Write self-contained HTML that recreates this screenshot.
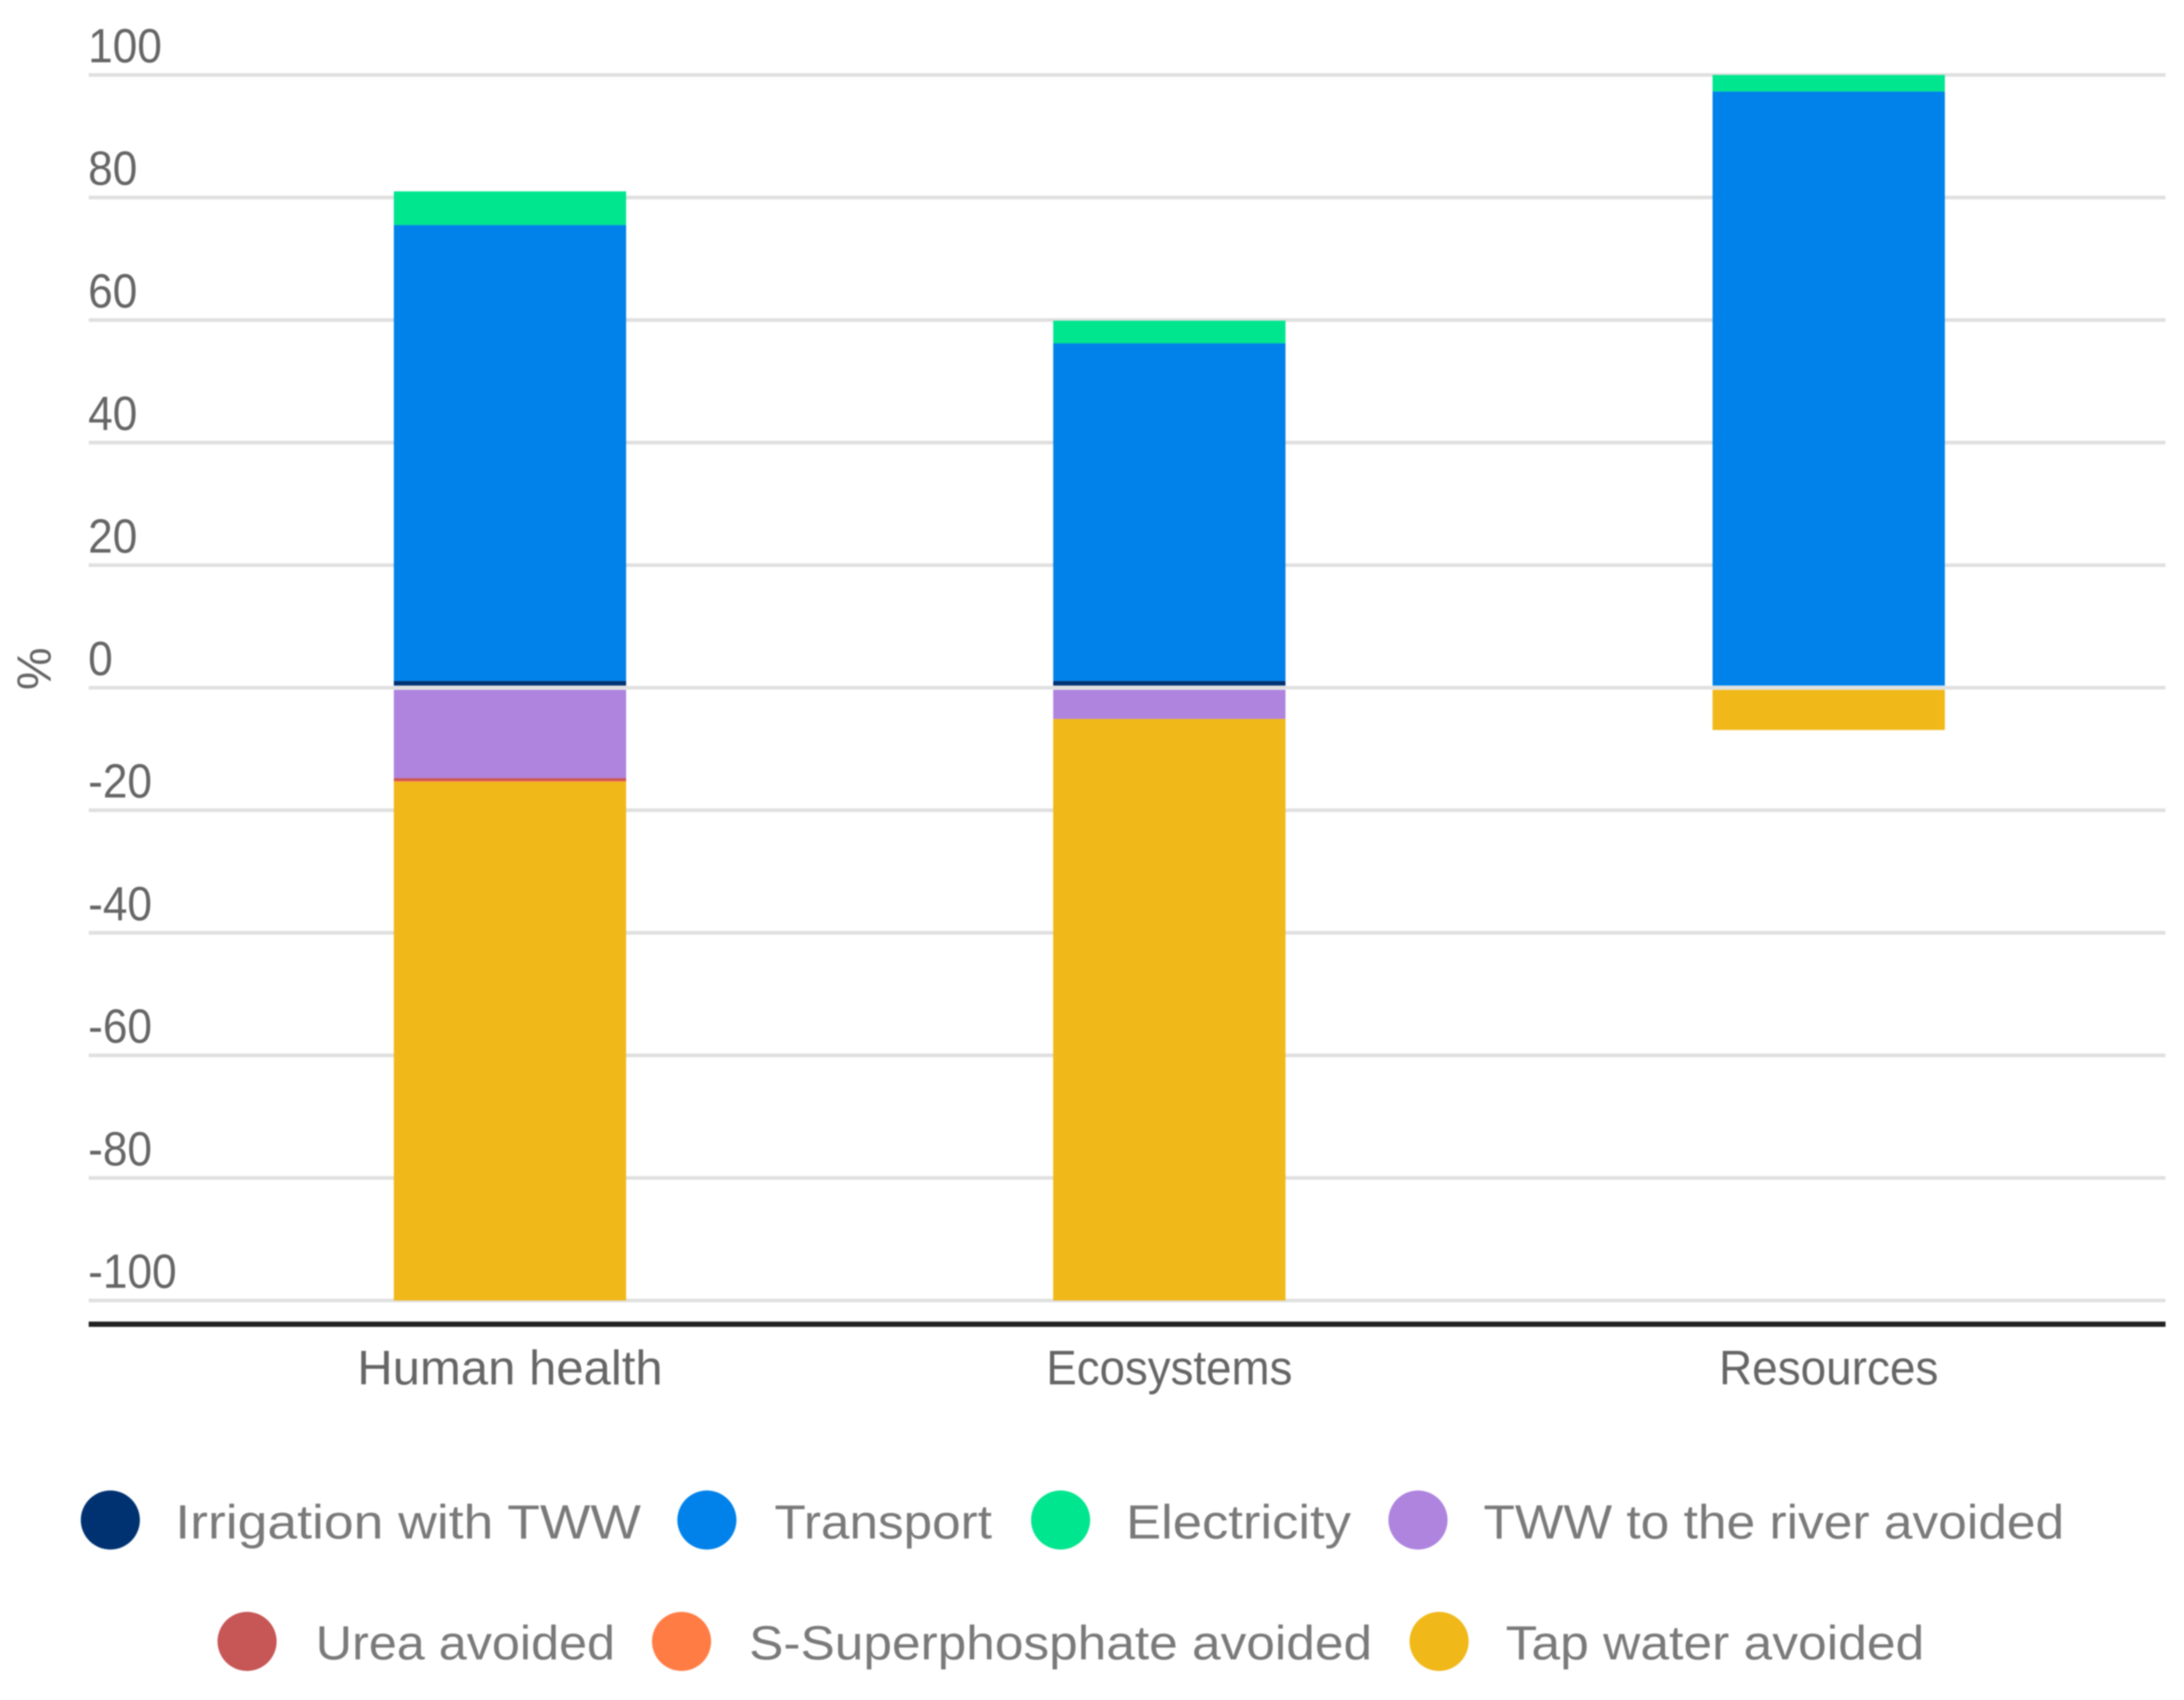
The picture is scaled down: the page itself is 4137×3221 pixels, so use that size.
<!DOCTYPE html>
<html lang="en">
<head>
<meta charset="utf-8">
<title>Stacked contribution chart</title>
<style>
html,body{margin:0;padding:0;background:#fff;width:4137px;height:3221px;overflow:hidden}
svg{display:block;filter:blur(1.3px)}
text{font-family:"Liberation Sans",sans-serif}
.tick{font-size:91px;fill:#666}
.cat{font-size:92px;fill:#666}
.leg{font-size:91px;fill:#7a7a7a}
</style>
</head>
<body>
<svg id="chart" xmlns="http://www.w3.org/2000/svg" width="4137" height="3221" viewBox="0 0 4137 3221">
  <rect x="0" y="0" width="4137" height="3221" fill="#fff"/>
  <g id="grid"></g>
  <g id="ticks"></g>
  <g id="bars"></g>
  <rect x="168" y="2504" width="3934" height="10" fill="#222"/>
  <g id="cats"></g>
  <text class="tick" text-anchor="middle" transform="translate(96,1267) rotate(-90)">%</text>

  <g>
    <g>
      <circle cx="209" cy="2880" r="56" fill="#003272"/>
      <text class="leg" x="332" y="2915" textLength="882" lengthAdjust="spacingAndGlyphs">Irrigation with TWW</text>
    </g>
    <g>
      <circle cx="1339" cy="2880" r="56" fill="#0082ea"/>
      <text class="leg" x="1467" y="2915" textLength="412" lengthAdjust="spacingAndGlyphs">Transport</text>
    </g>
    <g>
      <circle cx="2009" cy="2880" r="56" fill="#00e68e"/>
      <text class="leg" x="2133" y="2915" textLength="426" lengthAdjust="spacingAndGlyphs">Electricity</text>
    </g>
    <g>
      <circle cx="2686" cy="2880" r="56" fill="#ae84de"/>
      <text class="leg" x="2810" y="2915" textLength="1100" lengthAdjust="spacingAndGlyphs">TWW to the river avoided</text>
    </g>
    <g>
      <circle cx="468" cy="3110" r="56" fill="#c75656"/>
      <text class="leg" x="598" y="3144" textLength="567" lengthAdjust="spacingAndGlyphs">Urea avoided</text>
    </g>
    <g>
      <circle cx="1291" cy="3110" r="56" fill="#ff7d45"/>
      <text class="leg" x="1419" y="3144" textLength="1180" lengthAdjust="spacingAndGlyphs">S-Superphosphate avoided</text>
    </g>
    <g>
      <circle cx="2726" cy="3110" r="56" fill="#f0b819"/>
      <text class="leg" x="2852" y="3144" textLength="793" lengthAdjust="spacingAndGlyphs">Tap water avoided</text>
    </g>
  </g>
</svg>
<script>
const categories = ["Human health", "Ecosystems", "Resources"];
const yTicks = [100, 80, 60, 40, 20, 0, -20, -40, -60, -80, -100];
const irrigation = [1.1, 1.1, 0];
const transport = [74.4, 55.1, 97.3];
const electricity = [5.5, 3.7, 2.7];
const twwRiver = [-14.75, -5.1, 0];
const urea = [-0.45, 0, 0];
const sSuperphosphate = [-0.15, 0, 0];
const tapWater = [-84.65, -94.9, -6.9];

const NS = "http://www.w3.org/2000/svg";
const labelSqueeze = [1.01, 0.94, 0.945];
const seriesList = [
  {key: "irrigation", values: irrigation, color: "#003272"},
  {key: "transport", values: transport, color: "#0082ea"},
  {key: "electricity", values: electricity, color: "#00e68e"},
  {key: "tww-river", values: twwRiver, color: "#ae84de"},
  {key: "urea", values: urea, color: "#c75656"},
  {key: "s-superphosphate", values: sSuperphosphate, color: "#ff7d45"},
  {key: "tap-water", values: tapWater, color: "#f0b819"}
];

function yScale(v) { return 1303 - v * 11.61; }
function xCenter(i) { return 966 + i * 1249; }
const barWidth = 440;
const zeroGap = 4;

function make(tag, attrs, parent) {
  const el = document.createElementNS(NS, tag);
  for (const k in attrs) el.setAttribute(k, attrs[k]);
  parent.appendChild(el);
  return el;
}

const gridG = document.getElementById("grid");
const ticksG = document.getElementById("ticks");
yTicks.forEach(function (t) {
  const line = make("rect", {x: 168, y: yScale(t) - 3.5, width: 3934, height: 7, fill: "#e0e0e0"}, gridG);
  
  
  const label = make("text", {x: 167, y: yScale(t) - 24, "class": "tick"}, ticksG);
  
  
  label.textContent = String(t);
  label.setAttribute("textLength", (label.getComputedTextLength() * 0.92).toFixed(1));
  label.setAttribute("lengthAdjust", "spacingAndGlyphs");
});

const barsG = document.getElementById("bars");
categories.forEach(function (name, i) {
  let pos = 0, neg = 0;
  seriesList.forEach(function (s) {
    const v = s.values[i];
    if (!v) return;
    let top, bottom;
    if (v > 0) {
      bottom = pos === 0 ? yScale(0) - zeroGap : yScale(pos);
      pos += v;
      top = yScale(pos);
    } else {
      top = neg === 0 ? yScale(0) + zeroGap : yScale(neg);
      neg += v;
      bottom = yScale(neg);
    }
    const bar = make("rect", {
      x: xCenter(i) - barWidth / 2, y: top,
      width: barWidth, height: Math.max(bottom - top, 0), fill: s.color
    }, barsG);
    
    
  });
  const catLabel = make("text", {x: xCenter(i), y: 2623, "class": "cat", "text-anchor": "middle"}, document.getElementById("cats"));
  
  
  catLabel.textContent = name;
  catLabel.setAttribute("textLength", (catLabel.getComputedTextLength() * labelSqueeze[i]).toFixed(1));
  catLabel.setAttribute("lengthAdjust", "spacingAndGlyphs");
});
</script>
</body>
</html>
